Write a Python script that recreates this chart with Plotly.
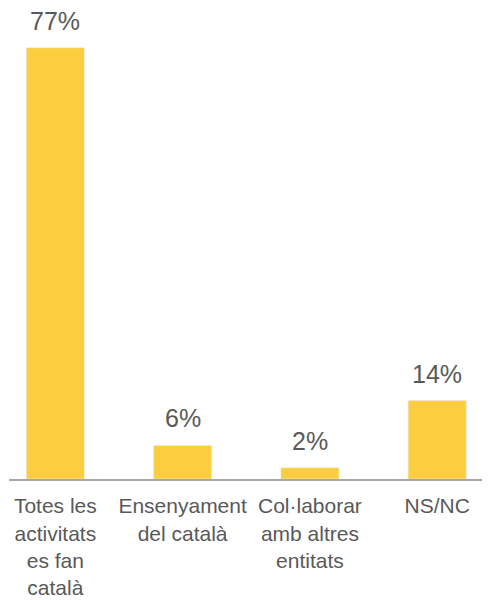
import plotly.graph_objects as go

categories = ["Totes les<br>activitats<br>es fan<br>català", "Ensenyament<br>del català",
              "Col·laborar<br>amb altres<br>entitats", "NS/NC"]
values = [77, 6, 2, 14]
labels = ["77%", "6%", "2%", "14%"]

BAR = "#FBCD3F"
TXT = "#595959"

fig = go.Figure()
fig.add_trace(go.Bar(x=list(range(len(categories))), y=values, marker_color=BAR,
                     width=0.456, hoverinfo="skip"))
for i, (v, t) in enumerate(zip(values, labels)):
    fig.add_annotation(x=i, y=v, text=t, showarrow=False, yanchor="bottom",
                       yshift=11, font=dict(family="Liberation Sans, Arial", size=25, color=TXT))

fig.update_layout(
    width=482, height=592,
    margin=dict(l=1, r=0, t=0, b=121),
    plot_bgcolor="white", paper_bgcolor="white",
    showlegend=False,
    font=dict(family="Liberation Sans, Arial", size=21, color=TXT),
    xaxis=dict(tickmode="array", tickvals=list(range(len(categories))), ticktext=categories,
               range=[-0.364, 3.415], showline=True, linecolor="#A6A6A6", linewidth=2,
               showgrid=False, zeroline=False, ticks="", ticklen=0, ticklabelstandoff=7,
               automargin=False, tickfont=dict(size=21, color=TXT)),
    yaxis=dict(range=[0, 84.1], visible=False, showgrid=False, zeroline=False),
)
fig.write_html("out.html")
